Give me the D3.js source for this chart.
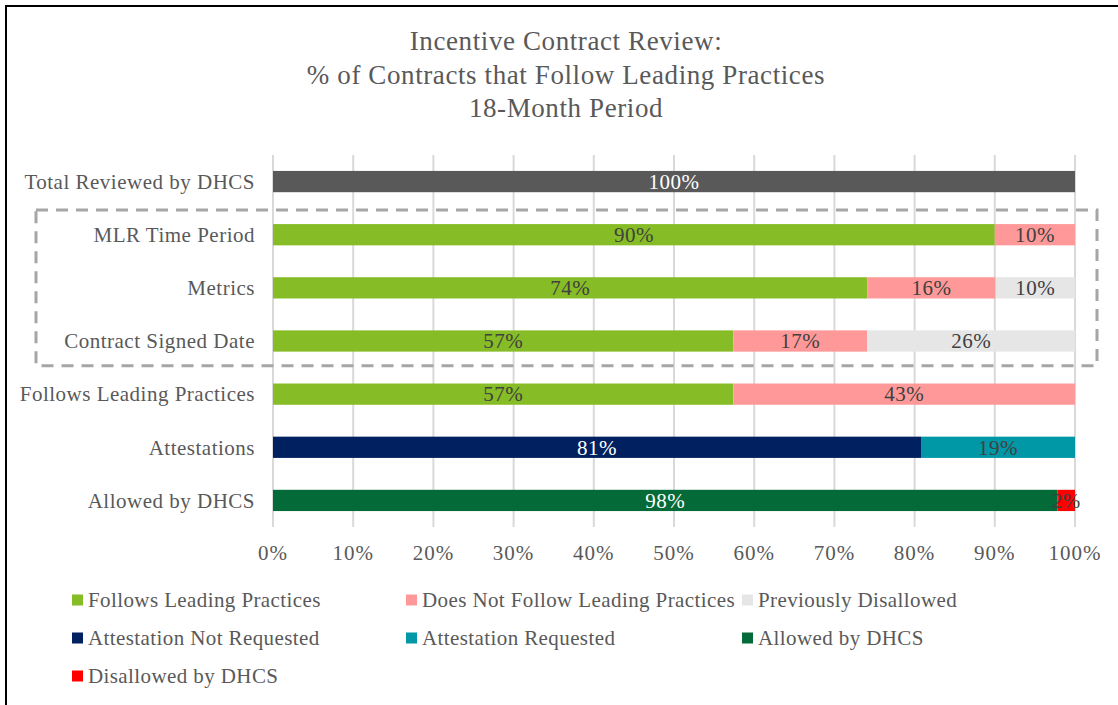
<!DOCTYPE html>
<html><head><meta charset="utf-8">
<script src="https://cdn.jsdelivr.net/npm/d3@7"></script>
<style>
html,body{margin:0;padding:0;background:#fff;}
svg{display:block;font-family:"Liberation Serif","Times New Roman",serif;}
</style></head>
<body>
<svg id="chart" width="1118" height="705"></svg>
<script>
const titleLines = ["Incentive Contract Review:", "% of Contracts that Follow Leading Practices", "18-Month Period"];
const categories = ["Total Reviewed by DHCS","MLR Time Period","Metrics","Contract Signed Date","Follows Leading Practices","Attestations","Allowed by DHCS"];
const seriesKeys = ["Total","Follows Leading Practices","Does Not Follow Leading Practices","Previously Disallowed","Attestation Not Requested","Attestation Requested","Allowed by DHCS","Disallowed by DHCS"];
const seriesColors = ["#595959","#86BC25","#FF9999","#E6E6E6","#002060","#0097A7","#046A38","#FF0000"];
const labelColors = ["#ffffff","#404040","#404040","#404040","#ffffff","#404040","#ffffff","#404040"];
// values per series, aligned with categories (percent)
const totalVals      = [100, 0, 0, 0, 0, 0, 0];
const followsVals    = [0, 90, 74.1, 57.4, 57.4, 0, 0];
const notFollowVals  = [0, 10, 16.0, 16.7, 42.6, 0, 0];
const prevDisVals    = [0, 0, 9.9, 25.9, 0, 0, 0];
const attNotReqVals  = [0, 0, 0, 0, 0, 80.8, 0];
const attReqVals     = [0, 0, 0, 0, 0, 19.2, 0];
const allowedVals    = [0, 0, 0, 0, 0, 0, 97.8];
const disallowedVals = [0, 0, 0, 0, 0, 0, 2.2];
const xTicks = [0,10,20,30,40,50,60,70,80,90,100];
const legendKeys = seriesKeys.slice(1);
const highlightRows = ["MLR Time Period","Contract Signed Date"];

const valueArrays = [totalVals, followsVals, notFollowVals, prevDisVals, attNotReqVals, attReqVals, allowedVals, disallowedVals];
const table = categories.map((c,i)=>{
  const o = {category:c};
  seriesKeys.forEach((k,j)=>o[k]=valueArrays[j][i]);
  return o;
});

const svg = d3.select("#chart");
const textColor = "#595959";

// outer border
svg.append("rect").attr("x",6).attr("y",6).attr("width",1130).attr("height",720)
  .attr("fill","none").attr("stroke","#000").attr("stroke-width",2);

// title
svg.append("text").attr("x",566).attr("y",50).attr("text-anchor","middle")
  .attr("font-size",27).attr("letter-spacing",0.6).attr("fill",textColor)
  .selectAll("tspan").data(titleLines).join("tspan")
  .attr("x",566).attr("dy",(d,i)=>i===0?0:33.5).text(d=>d);

const x = d3.scaleLinear().domain([0,100]).range([273,1075]);
const y = d3.scaleBand().domain(categories).range([155,527]).paddingInner(0.6).paddingOuter(0.3);

// gridlines
svg.append("g").selectAll("line").data(xTicks).join("line")
  .attr("x1",d=>x(d)).attr("x2",d=>x(d)).attr("y1",155).attr("y2",527)
  .attr("stroke","#d9d9d9").attr("stroke-width",2);

const stack = d3.stack().keys(seriesKeys)(table);

const g = svg.append("g");
stack.forEach((layer,j)=>{
  const grp = g.append("g");
  grp.selectAll("rect").data(layer.filter(d=>d[1]-d[0]>0)).join("rect")
    .attr("x",d=>x(d[0])).attr("width",d=>x(d[1])-x(d[0]))
    .attr("y",d=>y(d.data.category)).attr("height",y.bandwidth())
    .attr("fill",seriesColors[j]);
});
stack.forEach((layer,j)=>{
  g.append("g").selectAll("text").data(layer.filter(d=>d[1]-d[0]>0)).join("text")
    .attr("x",d=>(x(d[0])+x(d[1]))/2)
    .attr("y",d=>y(d.data.category)+y.bandwidth()/2)
    .attr("dy","0.35em").attr("text-anchor","middle")
    .attr("font-size",21).attr("letter-spacing",0.5).attr("fill",labelColors[j])
    .text(d=>Math.round(d[1]-d[0])+"%");
});

// category axis labels
svg.append("g").selectAll("text").data(categories).join("text")
  .attr("x",255).attr("y",d=>y(d)+y.bandwidth()/2).attr("dy","0.35em")
  .attr("text-anchor","end").attr("font-size",21).attr("letter-spacing",0.5)
  .attr("fill",textColor).text(d=>d);

// x axis tick labels
svg.append("g").selectAll("text").data(xTicks).join("text")
  .attr("x",d=>x(d)).attr("y",560).attr("text-anchor","middle")
  .attr("font-size",21).attr("letter-spacing",1).attr("fill",textColor).text(d=>d+"%");

// dashed highlight box
const boxTop = y(highlightRows[0]) - 14, boxBot = y(highlightRows[1]) + y.bandwidth() + 14;
svg.append("rect").attr("x",36).attr("y",boxTop).attr("width",1061).attr("height",boxBot-boxTop)
  .attr("fill","none").attr("stroke","#A6A6A6").attr("stroke-width",3).attr("stroke-dasharray","12,8");

// legend
const legCols = [72,406,742], legRows = [600,638,676];
const leg = svg.append("g").selectAll("g").data(legendKeys).join("g")
  .attr("transform",(d,i)=>`translate(${legCols[i%3]},${legRows[Math.floor(i/3)]})`);
leg.append("rect").attr("x",0).attr("y",-5.5).attr("width",11).attr("height",11)
  .attr("fill",d=>seriesColors[seriesKeys.indexOf(d)]);
leg.append("text").attr("x",16).attr("dy","0.35em").attr("font-size",21).attr("letter-spacing",0.4)
  .attr("fill",textColor).text(d=>d);
</script>
</body></html>
